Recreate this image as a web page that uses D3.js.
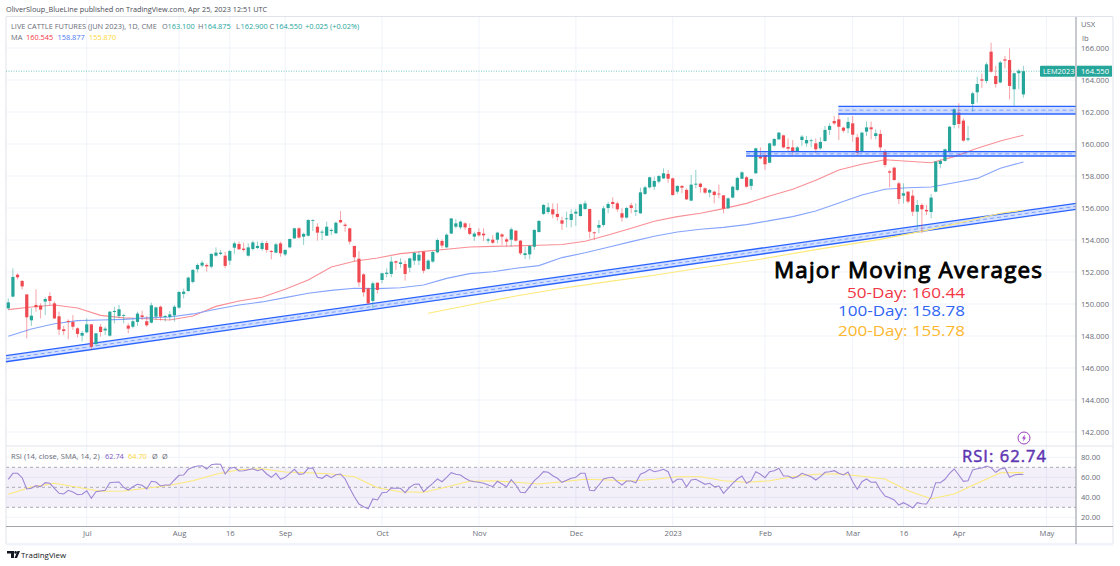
<!DOCTYPE html>
<html lang="en">
<head>
<meta charset="UTF-8">
<title>Live Cattle Futures</title>
<style>
  html, body { margin: 0; padding: 0; background: #fff; }
  svg { display: block; }
  text { font-family: "Open Sans", "DejaVu Sans", sans-serif; }
</style>
<script src="https://d3js.org/d3.v7.min.js"></script>
</head>
<body>
<svg id="chart" width="1120" height="566"></svg>
<script>
const opens = [149.73,150.46,151.83,151.44,150.6,148.98,149.94,149.9,150.15,150.5,
  150.04,149.23,148.42,148.94,148.88,148.48,148.02,148.23,148.73,147.5,
  148.58,148.35,148.02,149.5,149.25,149.27,148.65,148.58,148.88,149.29,
  148.92,148.83,149.21,149.83,149.19,149.19,149.29,149.77,150.63,150.81,
  151.38,152.17,152.4,152.44,152.33,153.02,153.13,153.02,152.71,153.52,
  153.75,153.46,153.02,153.44,153.5,153.44,153.81,153.31,153.21,153.79,
  153.1,153.54,154.1,154.73,154.21,154.27,155.21,154.83,154.46,154.27,
  154.56,154.42,155.25,154.96,154.73,153.63,152.83,151.85,150.98,150.19,
  151.33,151.5,151.88,151.88,152.67,152.5,152.5,152.27,152.71,152.71,
  153.27,152.19,152.65,153.23,153.94,153.54,154.4,154.83,154.79,155.04,
  154.75,154.21,154.5,154.4,153.96,154.02,154.02,154.35,154.04,154.02,
  154.58,153.96,153.06,153.1,153.58,154.5,155.63,155.75,155.92,155.63,
  155.23,155.31,155.25,155.65,155.5,155.94,155.94,154.48,154.77,154.94,
  156,156.38,156.29,155.67,155.4,156.17,155.77,155.67,156.88,157.29,
  157.33,157.65,157.85,158.13,157.85,157.02,157.38,157.13,156.46,157.46,
  157.52,157.23,156.96,157.02,156.9,156.79,155.98,156.65,157.13,157.83,
  157.92,157.38,158.17,159.21,159.31,158.83,159.9,160.29,160.54,159.81,
  159.79,159.56,160.25,160.04,160.19,160.04,159.73,160.19,160.88,161.44,
  161.54,161.02,160.98,161.29,160.42,159.52,160.77,161.04,160.5,160.63,
  159.52,158.29,158.52,157.54,156.77,157.02,156.77,155.77,156.19,155.88,
  155.75,157.02,158.75,158.94,159.52,161.19,161.96,161.46,160.27,162.5,
  163.23,164.04,163.94,165.77,164.25,163.85,165.29,165.25,163.42,164.42,163.1];
const highs = [150.35,152.23,151.92,151.5,150.6,149.73,150.92,150.04,150.42,150.73,
  150.15,149.52,148.63,149.04,149.31,148.54,148.33,149.1,148.73,148.17,
  148.75,148.58,149.56,149.83,149.94,149.38,148.79,149.1,149.52,149.58,
  149.25,150.08,149.83,149.9,149.31,149.56,149.94,150.81,150.96,151.71,
  152.19,152.54,152.71,152.54,153.17,153.54,153.38,153.27,153.38,153.9,
  153.9,153.83,153.79,153.96,153.9,153.94,153.94,153.38,153.83,153.9,
  153.42,154.1,154.77,154.79,154.46,155.29,155.29,155.04,154.63,155.15,
  154.73,155.15,155.81,155.08,154.77,153.63,153.31,151.92,151.02,151.4,
  151.35,151.96,152.23,152.96,152.71,152.85,152.71,152.9,153.27,153.27,
  153.27,152.81,153.31,154.1,154.04,154.42,155.35,155.31,155.21,155.1,
  155.04,154.52,154.73,154.73,154.15,154.31,154.52,154.42,154.15,154.79,
  154.63,154,153.58,153.69,154.67,155.25,156.25,156.33,156.29,156.29,
  155.46,155.77,155.92,155.94,156.27,156.46,155.94,154.52,155.25,156.13,
  156.4,156.67,156.4,155.98,156.08,156.33,156.29,157.27,157.38,157.96,
  157.96,158.06,158.48,158.38,157.9,157.42,157.42,157.23,158.06,158.38,
  157.58,157.29,157.19,157.08,157.46,156.81,156.67,157.4,157.96,158.29,
  158,157.85,159.77,159.79,159.48,160.08,160.38,160.75,160.58,160.35,
  160.25,159.88,160.56,160.5,160.35,160.35,160.42,161.13,161.29,161.75,
  161.92,161.08,161.67,161.75,160.63,160.77,161.4,161.4,160.92,160.88,
  159.67,158.38,158.58,157.65,157.54,157.06,157.13,156.5,156.29,156.19,
  156.88,158.94,159.04,159.71,161.13,162.23,162.54,161.6,161.13,163.27,
  164.21,164.4,165.1,166.33,164.88,165.19,165.5,165.98,164.46,164.67,164.88];
const lows = [149.63,150.42,151.54,150.92,147.85,148.63,149.52,149.1,149.31,149.94,
  149.06,148.06,148.06,147.79,148.38,147.92,147.65,148.17,147.13,147.38,
  147.96,148.06,147.96,148.79,149.1,148.79,148.17,148.48,148.63,149,
  148.58,148.79,149,148.96,148.9,149,148.9,149.71,150.35,150.77,
  151.29,151.96,152.29,152.02,152.23,152.96,153.06,152.23,152.44,153.13,
  153.38,153.27,152.96,153.33,153.42,153.33,153.21,152.79,153.17,152.96,
  153,153.48,154.08,154.1,153.69,154.21,154.56,153.96,154,154.25,
  154.31,154.38,155.04,154.52,153.73,152.65,151.08,150.46,150,149.73,
  150.67,151.29,151.67,151.67,152.13,152.27,151.46,151.98,152.44,152.44,
  151.92,152.13,152.58,153.17,153.48,153.48,154.38,154.73,154.67,154.63,
  154.31,153.94,154.21,153.94,153.79,153.75,153.79,153.69,153.58,153.58,
  153.9,153.06,152.81,152.79,153.38,154.46,155.56,155.63,155.35,155.21,
  154.63,154.79,154.79,154.88,155.46,155.88,154.1,154,154.42,154.83,
  155.67,155.98,155.77,155.15,155.35,155.67,155.5,155.63,156.81,157.23,
  157.13,157.54,157.81,157.58,156.77,156.88,156.92,156.5,156.42,157.23,
  156.96,156.88,156.67,156.29,156.6,155.67,155.94,156.6,157.06,157.79,
  157.27,157.13,158.13,159.04,158.38,158.79,159.83,160.25,159.73,159.52,
  159.31,159.52,159.88,159.83,159.79,159.42,159.63,160.13,160.56,161.19,
  160.25,160.71,160.67,160.15,159.25,159.46,160.5,160.29,160.29,159.58,
  158.54,157.29,157.71,156.25,156.29,156.29,155.5,154.73,154.42,155.56,
  155.35,156.98,158.48,158.9,159.48,160.98,160.98,160.15,160.15,162.02,
  162.58,163.5,163.79,164.46,163.52,163.79,164.73,162.79,162.38,163.42,162.9];
const closes = [150.1,151.69,151.67,151.1,149.17,149.27,149.8,149.65,150.31,150.19,
  149.1,148.4,148.31,148.88,148.58,148.13,148.19,148.73,147.33,148.17,
  148.25,148.46,149.52,149.56,149.67,149.31,148.46,148.92,149.4,149.19,
  148.67,149.92,149.79,149.21,149.25,149.35,149.83,150.75,150.77,151.65,
  152.13,152.44,152.58,152.35,153.13,153.21,153.21,152.38,153.31,153.79,
  153.42,153.38,153.54,153.85,153.63,153.81,153.38,153.25,153.73,153.17,
  153.38,154.06,154.73,154.15,154.38,155.25,155.25,154.46,154.52,154.83,
  154.63,155.08,155.1,154.88,153.9,152.92,151.35,150.73,150.04,151.29,
  150.88,151.92,151.96,152.65,152.58,152.6,151.88,152.85,153.19,153.08,
  152.08,152.71,153.25,154,153.65,154.33,155.35,155.04,155.15,154.79,
  154.38,154.4,154.29,154.29,154.04,153.83,154.46,154.21,153.9,154.67,
  153.96,153.17,153.17,153.63,154.63,155.19,156.19,156.04,155.6,155.44,
  155.02,155.35,155.63,155.77,156.23,156.29,154.52,154.42,154.94,155.98,
  156.25,156.25,155.92,155.4,156,156,155.85,156.98,157.29,157.92,
  157.69,158,158.17,157.83,156.81,157.38,157.27,156.54,157.46,157.52,
  157.31,156.96,157.13,156.81,156.85,155.96,156.6,157.33,157.88,158.23,
  157.33,157.81,159.73,159.1,158.73,160.04,160.31,160.71,159.79,159.71,
  159.52,159.79,160.46,160.25,160.23,159.67,160.13,160.88,161.13,161.29,
  161.08,160.83,161.38,160.58,159.46,160.71,161.04,160.92,160.67,159.79,
  158.69,158.21,157.75,156.56,156.92,156.4,155.77,156.19,155.92,155.79,
  156.65,158.9,158.94,159.67,161.08,162.17,161.25,160.21,160.35,163.17,
  163.75,163.96,164.98,164.52,163.75,165.1,165.21,163.63,164.42,164.58,164.55];

// moving averages
const maBars = [0,5,10,15,20,25,30,35,40,45,50,55,60,65,70,75,80,85,90,95,100,105,110,115,120,125,130,135,140,145,150,155,160,165,170,175,180,185,190,195,200,205,210,215,220];
const ma50 = [149.65,149.81,149.94,149.75,149.29,149.13,149.08,149,149.25,149.85,150.19,150.42,150.92,151.5,152.31,152.67,152.88,153.15,153.29,153.42,153.56,153.6,153.63,153.67,153.72,153.92,154.31,154.73,155.17,155.46,155.67,155.96,156.29,156.75,157.17,157.73,158.38,158.73,159.02,158.92,158.83,159.21,159.73,160.19,160.55];
const ma100 = [147.98,148.44,148.77,148.96,149,149.04,149.13,149.19,149.38,149.67,149.94,150.13,150.4,150.67,150.85,150.98,150.96,151.02,151.19,151.6,151.9,152.02,152.23,152.4,152.9,153.2,153.55,153.9,154.23,154.5,154.67,154.79,154.96,155.21,155.46,155.81,156.31,156.81,157.17,157.27,157.31,157.58,157.85,158.48,158.88];
const ma200Bars = [91,100,110,119,130,140,150,163,175,189,199,208,215,220];
const ma200 = [149.42,149.94,150.5,150.94,151.4,151.8,152.25,152.8,153.4,154.04,154.6,155.19,155.67,155.87];

const rsi = [58,64,64,59.6,48.3,49,51.6,50.6,54.6,54,49,44,43.3,47,45.3,42.6,43,46.6,39,45.6,
  46.3,47,54.6,55,55.3,50,47.3,50.6,53,52,48.3,56,55.3,51.3,52.3,52.3,57.3,62,62.3,68,
  70,71.3,71.6,68.3,72.6,73.3,73,63.3,69,70,66.3,66.6,67.6,68.6,66.6,68,63.3,60,64,58,
  60,64,68,63,63.6,69,69.3,60,59,62.3,59.6,62.6,63.3,58.3,49,40.6,33.3,30.6,28.6,38.3,
  37.3,44.6,45,49.3,49,49,44.6,50,53,53.3,45.6,50,54,58.3,55.6,60,64.6,63,62.3,59,
  56.6,55.6,55,54,52.3,50.6,56,53.3,50.6,57.6,52.3,45,44.6,50.6,56.6,60.6,65.6,65,61.6,59,
  55,57,59,60,64,64,47,46.6,52.3,58.3,59.6,60,55.6,52.3,56.3,56.3,54.6,63,65,68,
  65.6,66.6,68,65.6,54.6,58,58,50.6,57.3,58,55.6,53,54,50.6,51.3,44,49,54,58.3,61.3,
  54,56.6,65.6,63,59.6,65.6,66.6,69,61.3,61.3,59,60.6,64,62.3,60.6,57.3,60.6,65,65.6,66.6,
  64,62.3,65.3,55.6,48,55.6,58.3,55,55.3,47.3,41.3,39.6,37.3,32.3,34.6,32.3,29.3,34.6,33.6,33.3,
  40.6,54.6,54.6,58,64,68.3,62.3,56,56.6,67.3,68.6,69.3,71.3,69.6,65,68.3,69.3,60,62.3,63,62.74];
const rsiSmaBars = [0,5,10,15,20,25,30,35,40,45,50,55,60,65,70,75,80,85,90,95,100,105,110,115,120,125,130,135,140,145,150,155,160,165,170,175,180,185,190,195,200,205,210,215,220];
const rsiSma = [43,50.3,54,50,46,46.3,49,52,56.6,63,67.6,68.6,65.3,64.6,63.3,60.6,49.6,45.6,45,50.3,56,56.6,55,53.3,55.6,58,57.3,56.3,58,60.6,60.6,56.6,55,56.6,60.6,63,63.6,61,58.3,46.6,38.6,43.3,54,64.6,64.7];

const priceTicks = [142,144,146,148,150,152,154,156,158,160,162,164,166];
const rsiTicks = [20,40,60,80];
const rsiLevels = [70,50,30];
const timeTicks = [17,37,48,60,81,102,123,144,164,183,194,206,225];
const timeLabels = ['Jul','Aug','16','Sep','Oct','Nov','Dec','2023','Feb','Mar','16','Apr','May'];

// drawn channel and zones: [bar from, bar to, price from, price to]
const channelTop = [-0.5, 231.4, 146.77, 156.29];
const channelBottom = [-0.5, 231.4, 146.39, 155.92];
const upperZoneTop = [179.9, 231.4, 162.35, 162.35];
const upperZoneBottom = [179.9, 231.4, 161.875, 161.875];
const lowerZoneTop = [159.9, 231.4, 159.52, 159.52];
const lowerZoneBottom = [159.9, 231.4, 159.25, 159.25];
const lastPrice = 164.55;

const svg = d3.select('#chart');
const plotL = 6, plotR = 1076, outerR = 1113, plotT = 17, paneB = 446, rsiB = 526.5, timeB = 544;

const x = d3.scaleLinear().domain([-0.5, 231.4]).range([plotL, plotR]);
const y = d3.scaleLinear().domain([166, 142]).range([48, 432]);
const yr = d3.scaleLinear().domain([80, 20]).range([457.3, 517.3]);
const grey = '#6a6d78', gridC = '#f0f3fa', frameC = '#e0e3eb';

// grid
const grid = svg.append('g').attr('fill', 'none').attr('stroke', gridC).attr('stroke-width', 1);
timeTicks.forEach(t => grid.append('line').attr('x1', x(t)).attr('x2', x(t)).attr('y1', plotT).attr('y2', rsiB));
priceTicks.forEach(p => grid.append('line').attr('x1', plotL).attr('x2', plotR).attr('y1', y(p)).attr('y2', y(p)));
rsiTicks.forEach(p => grid.append('line').attr('x1', plotL).attr('x2', plotR).attr('y1', yr(p)).attr('y2', yr(p)));

// rsi background
svg.append('rect').attr('x', plotL).attr('width', plotR - plotL)
  .attr('y', yr(70)).attr('height', yr(30) - yr(70))
  .attr('fill', '#7e57c2').attr('fill-opacity', 0.09);
svg.append('g').selectAll('line').data(rsiLevels).join('line')
  .attr('x1', plotL).attr('x2', plotR).attr('y1', d => yr(d)).attr('y2', d => yr(d))
  .attr('stroke', '#a8aab2').attr('stroke-dasharray', '3 3');

// frame
const frame = svg.append('g').attr('stroke', frameC).attr('fill', 'none');
frame.append('line').attr('x1', plotL).attr('x2', outerR).attr('y1', plotT - 0.5).attr('y2', plotT - 0.5);
frame.append('line').attr('x1', plotL).attr('x2', plotL).attr('y1', plotT).attr('y2', timeB);
frame.append('line').attr('x1', outerR).attr('x2', outerR).attr('y1', plotT).attr('y2', timeB);
frame.append('line').attr('x1', plotL).attr('x2', plotR).attr('y1', paneB).attr('y2', paneB).attr('stroke-width', 1.2);
frame.append('line').attr('x1', plotR).attr('x2', outerR).attr('y1', paneB).attr('y2', paneB);
svg.append('rect').attr('x', plotL).attr('y', timeB - 1).attr('width', outerR - plotL).attr('height', 2.5).attr('fill', '#f0f3fa');

// last price line
svg.append('line').attr('x1', plotL).attr('x2', plotR).attr('y1', y(lastPrice)).attr('y2', y(lastPrice))
  .attr('stroke', '#26a69a').attr('stroke-opacity', 0.6).attr('stroke-dasharray', '1 1.5');

// drawn zones and channel
function drawBand(edgeA, edgeB) {
  const g = svg.append('g');
  g.append('polygon')
    .attr('points', [[x(edgeA[0]), y(edgeA[2])], [x(edgeA[1]), y(edgeA[3])], [x(edgeB[1]), y(edgeB[3])], [x(edgeB[0]), y(edgeB[2])]].join(' '))
    .attr('fill', '#2962ff').attr('fill-opacity', 0.2);
  [edgeA, edgeB].forEach(e => g.append('line')
    .attr('x1', x(e[0])).attr('x2', x(e[1])).attr('y1', y(e[2])).attr('y2', y(e[3]))
    .attr('stroke', '#2962ff').attr('stroke-width', 1.3));
  g.append('line')
    .attr('x1', x(edgeA[0])).attr('x2', x(edgeA[1]))
    .attr('y1', (y(edgeA[2]) + y(edgeB[2])) / 2).attr('y2', (y(edgeA[3]) + y(edgeB[3])) / 2)
    .attr('stroke', '#2962ff').attr('stroke-opacity', 0.5).attr('stroke-dasharray', '4 3');
}
drawBand(channelTop, channelBottom);

// moving averages
const priceLine = d3.line().x(d => x(d[0])).y(d => y(d[1]));
function drawMa(bars, values, color) {
  svg.append('path').attr('d', priceLine(d3.zip(bars, values)))
    .attr('fill', 'none').attr('stroke', color).attr('stroke-width', 1.1);
}
drawMa(ma200Bars, ma200, '#fde97a');
drawMa(maBars, ma50, '#f98f95');
drawMa(maBars, ma100, '#86a4fb');

// candles
const candles = svg.append('g').selectAll('g').data(closes).join('g');
const candleColor = (d, i) => d >= opens[i] ? '#26a69a' : '#ef4a52';
candles.append('line')
  .attr('x1', (d, i) => x(i)).attr('x2', (d, i) => x(i))
  .attr('y1', (d, i) => y(highs[i])).attr('y2', (d, i) => y(lows[i]))
  .attr('stroke', candleColor).attr('stroke-width', 1).attr('stroke-opacity', 0.5);
candles.append('rect')
  .attr('x', (d, i) => x(i) - 1.6).attr('width', 3.2)
  .attr('y', (d, i) => y(Math.max(d, opens[i])))
  .attr('height', (d, i) => Math.max(0.8, Math.abs(y(d) - y(opens[i]))))
  .attr('fill', candleColor);

drawBand(upperZoneTop, upperZoneBottom);
drawBand(lowerZoneTop, lowerZoneBottom);

// rsi lines
const rsiLine = d3.line().x(d => x(d[0])).y(d => yr(d[1]));
svg.append('path').attr('d', rsiLine(d3.zip(rsiSmaBars, rsiSma)))
  .attr('fill', 'none').attr('stroke', '#fde97a').attr('stroke-width', 1.1);
svg.append('path').attr('d', rsiLine(rsi.map((v, i) => [i, v])))
  .attr('fill', 'none').attr('stroke', '#9f87d6').attr('stroke-width', 1.1);

// axes
function styleAxis(g) {
  g.select('.domain').remove();
  g.selectAll('.tick line').remove();
  g.selectAll('text').attr('fill', grey).attr('font-size', 7.6).attr('font-family', '"Open Sans", sans-serif');
}
svg.append('g').attr('transform', `translate(${plotR},0)`)
  .call(d3.axisRight(y).tickValues(priceTicks).tickFormat(d3.format('.3f')).tickSize(0).tickPadding(5))
  .call(styleAxis);
svg.append('g').attr('transform', `translate(${plotR},0)`)
  .call(d3.axisRight(yr).tickValues(rsiTicks).tickFormat(d3.format('.2f')).tickSize(0).tickPadding(5))
  .call(styleAxis);
svg.append('g').attr('transform', `translate(0,${rsiB})`)
  .call(d3.axisBottom(x).tickValues(timeTicks).tickFormat((d, i) => timeLabels[i]).tickSize(0).tickPadding(4))
  .call(styleAxis);
svg.append('line').attr('x1', plotR).attr('x2', plotR).attr('y1', plotT).attr('y2', timeB).attr('stroke', '#a3a6af').attr('stroke-width', 1.2);
svg.append('line').attr('x1', plotL).attr('x2', outerR).attr('y1', rsiB).attr('y2', rsiB).attr('stroke', '#a3a6af').attr('stroke-width', 1.2);

function label(txt, px, py, size, color, extra) {
  const t = svg.append('text').attr('x', px).attr('y', py).attr('font-size', size).attr('fill', color).text(txt);
  if (extra) Object.entries(extra).forEach(([k, v]) => t.attr(k, v));
  return t;
}

// header and legends
label('OliverSloup_BlueLine published on TradingView.com, Apr 25, 2023 12:51 UTC', 6, 12, 7.3, '#4a4d57');
label('LIVE CATTLE FUTURES (JUN 2023), 1D, CME', 11, 29, 7.4, grey);
const teal = '#26a69a';
[['O', 162, grey], ['163.100', 167.5, teal], ['H', 198, grey], ['164.875', 203.5, teal], ['L', 236, grey], ['162.900', 240.5, teal],
 ['C', 269.5, grey], ['164.550', 275, teal], ['+0.025 (+0.02%)', 305, teal]]
  .forEach(d => label(d[0], d[1], 29, 7.4, d[2]));
label('MA', 11, 40, 7.4, grey);
label('160.545', 26, 40, 7.4, '#f23645');
label('158.877', 57.5, 40, 7.4, '#4a78f5');
label('155.870', 89, 40, 7.4, '#fdd835');
label('RSI (14, close, SMA, 14, 2)', 11, 459, 7.6, grey);
label('62.74', 105, 459, 7.4, '#7e57c2');
label('64.70', 128, 459, 7.4, '#fdd835');
label('Ø', 152, 459, 7.4, grey);
label('Ø', 162, 459, 7.4, grey);

label('USX', 1081, 27, 7.6, grey);
label('lb', 1082, 41, 7.6, grey);

// price tags
svg.append('rect').attr('x', 1040).attr('y', y(lastPrice) - 5.5).attr('width', 35).attr('height', 11).attr('rx', 1).attr('fill', teal);
svg.append('rect').attr('x', plotR + 1).attr('y', y(lastPrice) - 5.5).attr('width', 35).attr('height', 11).attr('fill', teal);
label('LEM2023', 1043, y(lastPrice) + 3, 7.4, '#fff');
label('164.550', 1081, y(lastPrice) + 3, 7.6, '#fff');

// annotations
const big = { 'font-family': '"DejaVu Sans", sans-serif' };
label('Major Moving Averages', 774, 277.5, 22.4, '#000', { ...big, stroke: '#000', 'stroke-width': 0.9, textLength: 268, lengthAdjust: 'spacing' });
label('50-Day: 160.44', 847, 298, 15.2, '#f23645', { ...big, textLength: 118, lengthAdjust: 'spacingAndGlyphs' });
label('100-Day: 158.78', 838, 316, 15.2, '#2f66f5', { ...big, textLength: 127, lengthAdjust: 'spacingAndGlyphs' });
label('200-Day: 155.78', 838, 336, 15.2, '#fdb72e', { ...big, textLength: 127, lengthAdjust: 'spacingAndGlyphs' });
label('RSI: 62.74', 962, 462, 16.5, '#5e35b1', { ...big, stroke: '#5e35b1', 'stroke-width': 0.5, textLength: 84, lengthAdjust: 'spacing' });

// lightning badge
const badge = svg.append('g').attr('transform', 'translate(1024,438)');
badge.append('circle').attr('r', 6).attr('fill', '#fff').attr('stroke', '#9c3fc0').attr('stroke-width', 1);
badge.append('path').attr('d', 'M1,-3.5 L-2,0.5 L-0.3,0.5 L-1,3.5 L2,-0.5 L0.3,-0.5 Z').attr('fill', '#9c3fc0');

// footer logo
svg.append('path').attr('d', 'M7,551 h7 v7 h-3 v-4.5 h-4 Z M14.5,558 l3,-7 h2.5 l-3,7 Z').attr('fill', '#131722');
svg.append('circle').attr('cx', 15.6).attr('cy', 552.4).attr('r', 1.3).attr('fill', '#131722');
label('TradingView', 21, 557.5, 7.9, '#131722');
</script>
</body>
</html>
